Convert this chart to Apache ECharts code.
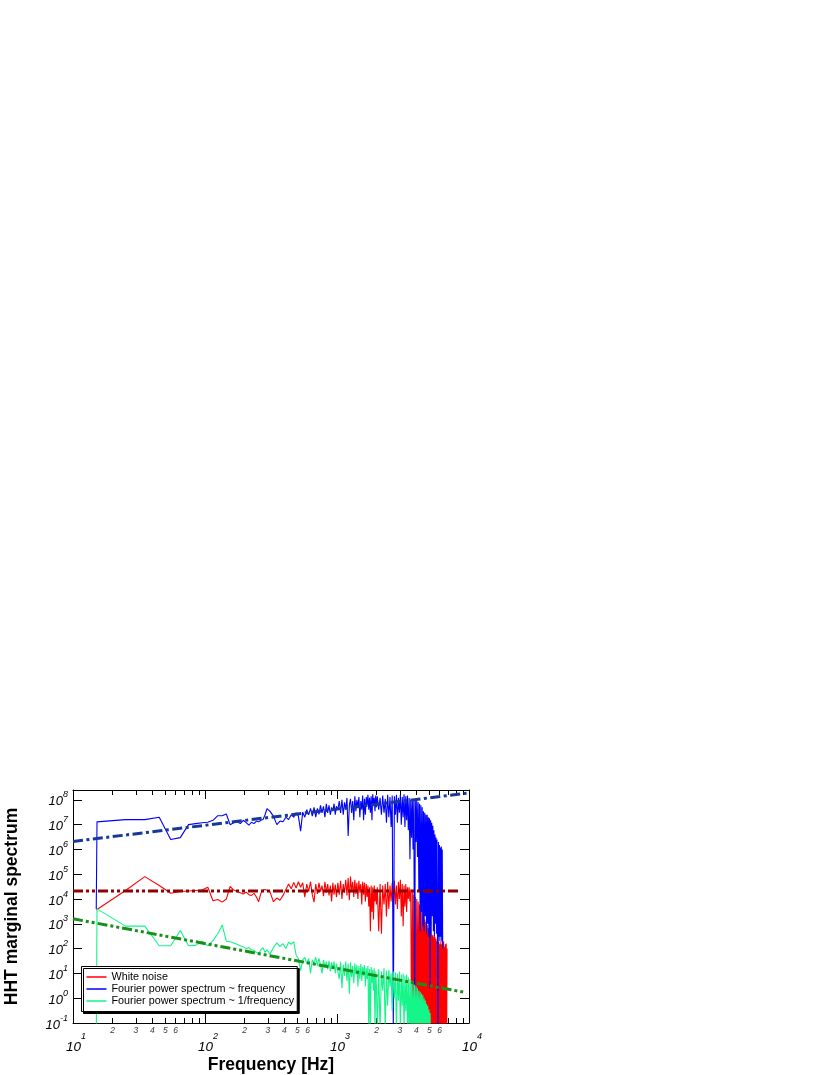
<!DOCTYPE html>
<html><head><meta charset="utf-8">
<script src="https://cdn.jsdelivr.net/npm/echarts@6/dist/echarts.min.js"></script>
<style>html,body{margin:0;padding:0;background:#fff}#c{width:830px;height:1075px}</style>
</head><body><div id="c"></div>
<script>
// Frequency grid (Hz) of the plotted spectra
const freqHz = [
  15, 15.2, 25, 35, 45, 55, 65, 75, 85, 95, 105, 115, 125, 135, 145, 155, 165, 175, 185, 195, 205, 215, 225, 235, 245, 255, 265, 275, 285, 295,
  310, 330, 350, 370, 390, 410, 430, 450, 470, 490, 510, 530, 550, 570, 590, 610, 630, 650, 670, 690, 710, 730, 750, 770, 790, 810, 830, 850, 870, 890, 910, 930, 950, 970, 990,
  1015, 1040, 1065, 1090, 1115, 1140, 1165, 1190, 1215, 1240, 1265, 1290, 1315, 1340, 1365, 1390, 1415, 1440, 1465, 1490, 1515, 1540, 1565, 1590, 1615, 1640, 1665, 1690, 1715, 1740, 1765, 1790, 1815, 1840, 1865, 1890, 1915, 1940, 1965, 1990,
  2020, 2070, 2120, 2170, 2220, 2270, 2320, 2370, 2420, 2470,
  2520, 2570, 2620, 2670, 2720, 2770, 2820, 2870, 2920, 2970,
  3020, 3070, 3120, 3170, 3220, 3270, 3320, 3370, 3420, 3470,
  3520, 3570, 3620, 3670, 3720, 3770, 3820, 3870, 3920, 3970,
  4020, 4070, 4120, 4170, 4220, 4270, 4320, 4370, 4420, 4470,
  4520, 4570, 4620, 4670, 4720, 4770, 4820, 4870, 4920, 4970,
  5020, 5070, 5120, 5170, 5220, 5270, 5320, 5370, 5420, 5470,
  5520, 5570, 5620, 5670, 5720, 5770, 5820, 5870, 5920, 5970,
  6020, 6070, 6120, 6170, 6220, 6270, 6320, 6370, 6420, 6470,
  6520, 6570, 6620, 6670, 6720, 6770, 6820
];

// White noise (red)
const whiteNoise = [
  3.6e3, 3.7e3, 2.2e4, 8.0e4, 3.5e4, 1.7e4, 2.0e4, 2.1e4, 2.2e4, 2.3e4, 3.0e4, 8.5e3, 9.5e3, 7.5e3, 1.0e4, 3.2e4, 2.3e4, 2.0e4, 1.8e4, 1.6e4, 1.9e4, 1.5e4, 1.4e4, 1.7e4, 1.2e4, 7.8e3, 1.7e4, 2.3e4, 2.4e4, 2.3e4,
  2.0e4, 7.8e3, 1.1e4, 9.0e3, 1.4e4, 2.4e4, 4.0e4, 2.6e4, 4.7e4, 2.8e4, 5.0e4, 3.0e4, 4.5e4, 1.2e4, 4.0e4, 2.0e4, 5.0e4, 1.5e4, 7.5e3, 4.0e4, 1.6e4, 4.5e4, 2.0e4, 3.5e4, 1.3e4, 5.0e4, 1.8e4, 4.0e4, 1.4e4, 3.5e4, 8.0e3, 4.5e4, 1.5e4, 3.8e4, 1.2e4,
  4.5e4, 1.5e4, 5.5e4, 1.0e4, 4.0e4, 1.8e4, 6.0e4, 1.4e4, 7.0e4, 9.0e3, 8.0e4, 2.0e4, 5.0e4, 1.2e4, 6.0e4, 1.6e4, 4.5e4, 1.0e4, 5.5e4, 1.8e4, 4.0e4, 6.0e3, 5.0e4, 1.5e4, 4.5e4, 8.0e3, 4.0e4, 1.2e4, 3.5e4, 5.0e3, 3.0e4, 5.0e2, 3.5e4, 3.0e3, 3.0e4, 1.5e3, 3.5e4, 8.0e3, 2.5e4, 6.0e3,
  3.0e4, 5.0e2, 4.0e4, 4.0e2, 3.5e4, 6.0e3, 4.0e4, 2.0e3, 5.0e4, 4.0e3,
  3.5e4, 8.0e3, 4.5e4, 5.0e3, 5.5e4, 6.0e3, 3.5e4, 4.0e3, 5.0e4, 1.0e4,
  6.0e4, 2.0e3, 4.0e4, 8.0e2, 3.5e4, 5.0e3, 4.0e4, 3.0e3, 3.0e4, 1.0e4,
  3.0e4, 8.0e3, 2.5e4, 0.02, 2.0e4, 0.02, 1.5e4, 0.03, 1.2e4, 0.02,
  1.0e4, 0.02, 8.0e3, 0.03, 6.0e3, 0.02, 5.0e3, 0.02, 4.0e3, 0.02,
  2.0e3, 0.03, 1.5e3, 0.02, 1.2e3, 0.02, 9.0e2, 0.02, 7.0e2, 0.02,
  6.0e2, 0.02, 5.0e2, 0.02, 4.0e2, 0.02, 3.5e2, 0.02, 3.0e2, 0.02,
  3.0e2, 0.02, 2.5e2, 0.02, 2.0e2, 0.02, 2.0e2, 0.02, 1.8e2, 0.02,
  1.5e2, 0.02, 2.0e2, 0.02, 1.5e2, 0.02, 1.8e2, 0.02, 2.0e2, 0.02,
  1.2e2, 0.02, 1.5e2, 0.02, 1.6e2, 0.02, 1.0e2
];

// Fourier power spectrum ~ frequency (blue)
const fourierFreq = [
  4e3, 1.3e7, 1.6e7, 1.6e7, 2.0e7, 2.5e6, 3.0e6, 1.0e7, 1.1e7, 1.2e7, 1.25e7, 1.5e7, 2.3e7, 2.3e7, 2.7e7, 1.0e7, 1.2e7, 1.35e7, 1.1e7, 1.5e7, 1.2e7, 9.5e6, 1.25e7, 1.1e7, 1.4e7, 1.3e7, 1.5e7, 1.6e7, 2.5e7, 4.4e7,
  3.5e7, 2.2e7, 1.0e7, 1.4e7, 1.3e7, 2.0e7, 1.6e7, 2.5e7, 2.0e7, 3.0e7, 2.2e7, 5.5e6, 3.2e7, 2.0e7, 4.0e7, 2.5e7, 4.5e7, 2.2e7, 5.0e7, 2.0e7, 4.5e7, 2.6e7, 6.0e7, 3.0e7, 5.5e7, 2.0e7, 7.0e7, 3.0e7, 6.0e7, 2.5e7, 5.0e7, 3.5e7, 7.0e7, 2.5e7, 5.5e7,
  4.0e7, 9.0e7, 3.0e7, 1.0e8, 2.5e7, 8.0e7, 4.0e7, 1.2e8, 3.5e6, 6.0e7, 1.1e8, 3.0e7, 9.0e7, 1.5e7, 1.4e8, 3.5e7, 1.0e8, 5.0e7, 1.3e8, 2.0e7, 9.0e7, 4.0e7, 1.5e8, 1.5e7, 1.1e8, 2.5e7, 1.3e8, 6.0e7, 1.6e8, 4.0e7, 1.2e8, 3.0e7, 1.4e8, 1.5e7, 1.7e8, 6.0e7, 1.2e8, 3.5e7, 1.5e8, 5.0e7,
  1.4e8, 4.0e7, 1.2e8, 2.5e7, 1.5e8, 3.0e7, 1.1e8, 1.2e7, 1.6e8, 2.0e7,
  1.3e8, 8.0e6, 1.5e8, 0.05, 1.4e8, 2.5e7, 1.6e8, 1.2e7, 1.2e8, 3.0e7,
  1.6e8, 1.0e7, 1.3e8, 2.0e7, 1.7e8, 8.0e6, 1.4e8, 1.5e7, 1.5e8, 6.0e6,
  1.2e8, 4.0e5, 1.0e8, 3.0e6, 1.1e8, 1.0e6, 1.0e8, 0.05, 9.0e7, 2.0e6,
  1.0e8, 5.0e5, 8.0e7, 2.0e4, 7.0e7, 5.0e2, 6.0e7, 3.0e3, 5.0e7, 8.0e2,
  3.5e7, 5.0e2, 3.0e7, 2.0e3, 2.5e7, 4.0e2, 2.5e7, 1.0e3, 2.0e7, 3.0e2,
  1.8e7, 2.5, 1.5e7, 4.0e2, 1.2e7, 2.0e3, 9.0e6, 5.0e2, 6.0e6, 3.0e2,
  4.0e6, 1.0e3, 3.0e6, 4.0e2, 2.5e6, 2.0e2, 0.05, 2.0e6, 3.0e2, 1.5e6,
  2.0e2, 1.2e6, 3.0e2, 1.3e6, 2.0e2, 1.0e6, 1.0e2, null, null, null,
  null, null, null, null, null, null, null
];

// Fourier power spectrum ~ 1/frequency (green)
const fourierInvFreq = [
  0.01, 4.0e3, 8.1e2, 8.1e2, 1.3e2, 1.3e2, 5.4e2, 1.3e2, 1.35e2, 2.0e2, 1.3e2, 2.1e2, 4.0e2, 9.0e2, 2.0e2, 1.9e2, 1.7e2, 1.5e2, 1.3e2, 1.2e2, 1.0e2, 1.1e2, 9.0e1, 8.5e1, 7.0e1, 6.5e1, 9.0e1, 1.1e2, 7.0e1, 9.0e1,
  6.0e1, 1.1e2, 1.7e2, 1.2e2, 1.6e2, 1.0e2, 1.8e2, 1.5e2, 1.9e2, 5.5e1, 4.0e1, 1.3e1, 3.5e1, 4.5e1, 2.5e1, 4.0e1, 1.0e1, 3.5e1, 2.5e1, 4.5e1, 2.0e1, 4.0e1, 2.2e1, 1.0e1, 3.5e1, 1.8e1, 3.0e1, 1.5e1, 3.2e1, 1.2e1, 2.8e1, 1.6e1, 3.0e1, 1.0e1, 2.5e1,
  2.5e1, 6, 3.0e1, 2.5, 2.2e1, 8, 3.0e1, 5, 2.5e1, 1.5, 2.8e1, 7, 2.0e1, 4, 2.5e1, 9, 2.2e1, 3, 2.0e1, 6, 2.4e1, 5, 1.8e1, 8, 2.2e1, 3, 1.6e1, 6, 2.0e1, 0.05, 1.5e1, 0.05, 1.8e1, 4, 1.4e1, 2, 1.6e1, 0.05, 1.2e1, 3,
  0.05, 1.5e1, 0.05, 1.2e1, 2, 1.6e1, 0.05, 1.3e1, 0.5, 1.4e1,
  3, 1.0e1, 0.3, 1.2e1, 1, 1.1e1, 0.05, 1.0e1, 0.8, 1.2e1,
  0.05, 9, 0.5, 1.0e1, 0.05, 8, 0.3, 9, 0.05, 7,
  0.02, 6, 0.02, 5, 0.02, 4, 0.02, 3.5, 0.02, 3,
  0.02, 2.5, 0.02, 2, 0.02, 1.8, 0.02, 1.5, 0.02, 1.3,
  0.02, 1.0, 0.02, 0.8, 0.02, 0.6, 0.02, 0.5, 0.02, 0.35,
  0.02, 0.25, 0.02, null, null, null, null, null, null, null,
  null, null, null, null, null, null, null, null, null, null,
  null, null, null, null, null, null, null, null, null, null,
  null, null, null, null, null, null, null
];

// Power-law fit lines
const fitWhiteF = [10, 8400];
const fitWhiteV = [2.1e4, 2.1e4];
const fitFreqF = [10, 10000];
const fitFreqV = [2.1e6, 1.9e8];
const fitInvF = [10, 9150];
const fitInvV = [1.6e3, 1.75];

// Minor tick labels on the frequency axis
const minorLabelFreqs = [20, 30, 40, 50, 60, 200, 300, 400, 500, 600, 2000, 3000, 4000, 5000, 6000];
const minorLabelText = ['2', '3', '4', '5', '6', '2', '3', '4', '5', '6', '2', '3', '4', '5', '6'];

const seriesNames = ['White noise', 'Fourier power spectrum ~ frequency', 'Fourier power spectrum ~ 1/frequency'];

const FONT = '"Liberation Sans", Arial, Helvetica, sans-serif';
const pairs = (xs, ys) => xs.map((x, i) => [x, ys[i]]);
// legend swatch: a thin horizontal bar centred in a 20x11 box
const LINE_ICON = 'path://M0,0L20,0L20,0.01L0,0.01Z M0,4.7L20,4.7L20,6.3L0,6.3Z M0,10.99L20,10.99L20,11L0,11Z';

const chart = echarts.init(document.getElementById('c'), null, { renderer: 'canvas' });

function expLabel(v) {
  const e = Math.log10(v);
  const r = Math.round(e);
  if (Math.abs(e - r) > 1e-6) return '';
  return r;
}

const xLabel = {
  show: true, margin: 9,
  formatter: v => { const r = expLabel(v); return r === '' ? '' : '{sp| }{b|10}{s|' + r + '}'; },
  rich: {
    sp: { width: 6, fontSize: 9 },
    b: { fontSize: 13.5, fontStyle: 'italic', fontFamily: FONT, color: '#000', lineHeight: 30 },
    s: { fontSize: 9, fontStyle: 'italic', fontFamily: FONT, color: '#000', lineHeight: 9, verticalAlign: 'top' }
  }
};
const yLabel = {
  show: true, margin: 5, padding: [4, 0, 0, 0],
  formatter: v => { const r = expLabel(v); return r === '' ? '' : '{b|10}{s|' + (r < 0 ? '-' + (-r) : r) + '}'; },
  rich: {
    b: { fontSize: 13, fontStyle: 'italic', fontFamily: FONT, color: '#000', lineHeight: 23 },
    s: { fontSize: 9, fontStyle: 'italic', fontFamily: FONT, color: '#000', lineHeight: 9, verticalAlign: 'top' }
  }
};

const axisLine = { show: true, lineStyle: { color: '#000', width: 1 } };
const axisTick = { show: true, inside: true, length: 9, lineStyle: { color: '#000', width: 1 } };
const minorTick = { show: true, splitNumber: 9, length: 5, lineStyle: { color: '#000', width: 1 } };

function specSeries(name, vals, color) {
  return {
    name, type: 'line', data: pairs(freqHz, vals), xAxisIndex: 0, yAxisIndex: 0,
    symbol: 'none', showSymbol: false, connectNulls: false, silent: true,
    lineStyle: { color, width: 1.1 }, itemStyle: { color }, z: 2
  };
}
function fitSeries(xs, ys, color, dash) {
  return {
    type: 'line', data: pairs(xs, ys), xAxisIndex: 0, yAxisIndex: 0,
    symbol: 'none', showSymbol: false, silent: true,
    lineStyle: { color, width: 3, type: dash, cap: 'butt' }, z: 5
  };
}

const option = {
  backgroundColor: '#fff',
  animation: false,
  grid: { left: 73, top: 790, width: 396, height: 235, containLabel: false },
  legend: {
    data: seriesNames.map(n => ({ name: n, icon: LINE_ICON })),
    orient: 'vertical', left: 81.5, top: 966.5,
    itemWidth: 20, itemHeight: 11, itemGap: 1, padding: [5, 3, 5, 5],
    backgroundColor: '#fff', borderColor: '#000', borderWidth: 1,
    shadowColor: '#000', shadowOffsetX: 2, shadowOffsetY: 2, shadowBlur: 0,
    selectedMode: false, z: 10,
    textStyle: { fontSize: 10.8, fontFamily: FONT, color: '#000' }
  },
  xAxis: [
    {
      type: 'log', logBase: 10, min: 10, max: 10000, position: 'bottom',
      axisLine, axisTick, minorTick, splitLine: { show: false }, axisLabel: xLabel,
      name: 'Frequency [Hz]', nameLocation: 'middle', nameGap: 33,
      nameTextStyle: { fontSize: 17.5, fontWeight: 'bold', fontFamily: FONT, color: '#000' }
    },
    {
      type: 'log', logBase: 10, min: 10, max: 10000, position: 'top',
      axisLine, axisTick, minorTick, splitLine: { show: false }, axisLabel: { show: false }
    }
  ],
  yAxis: [
    {
      type: 'log', logBase: 10, min: 0.1, max: 2.5e8, splitNumber: 10, position: 'left',
      axisLine, axisTick, minorTick: { show: false }, splitLine: { show: false }, axisLabel: yLabel,
      name: 'HHT marginal spectrum', nameLocation: 'middle', nameGap: 52, nameRotate: 90,
      nameTextStyle: { fontSize: 17.5, fontWeight: 'bold', fontFamily: FONT, color: '#000' }
    },
    {
      type: 'log', logBase: 10, min: 0.1, max: 2.5e8, splitNumber: 10, position: 'right',
      axisLine, axisTick, minorTick: { show: false }, splitLine: { show: false }, axisLabel: { show: false }
    }
  ],
  series: [
    specSeries(seriesNames[0], whiteNoise, '#ff0000'),
    specSeries(seriesNames[1], fourierFreq, '#0000ff'),
    specSeries(seriesNames[2], fourierInvFreq, '#14f58a'),
    fitSeries(fitWhiteF, fitWhiteV, '#900000', [10, 3, 3, 3, 3, 3]),
    fitSeries(fitFreqF, fitFreqV, '#17389a', [10, 3.5, 3, 3.5]),
    fitSeries(fitInvF, fitInvV, '#17901a', [10, 3, 3, 3, 3, 3]),
    {
      type: 'scatter', xAxisIndex: 0, yAxisIndex: 0, silent: true, clip: false,
      data: minorLabelFreqs.map((f, i) => ({ value: [f, 0.1], name: minorLabelText[i] })),
      symbolSize: 1, itemStyle: { color: 'rgba(0,0,0,0)' },
      label: { show: true, position: 'bottom', distance: 3, formatter: p => p.name,
        fontSize: 8.5, fontStyle: 'italic', fontFamily: FONT, color: '#000' },
      z: 6
    }
  ]
};
chart.setOption(option);
</script>
</body></html>
